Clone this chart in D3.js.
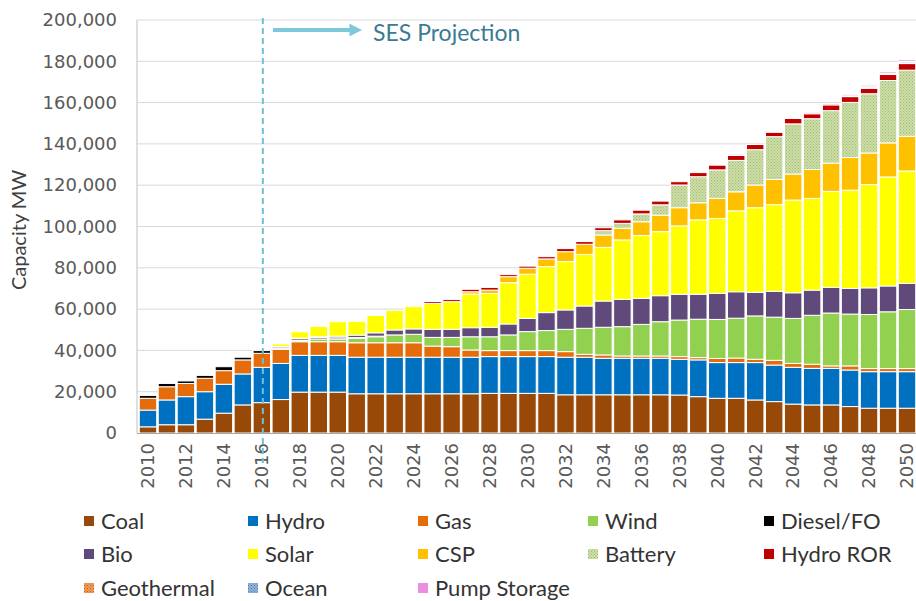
<!DOCTYPE html>
<html><head><meta charset="utf-8">
<script src="https://cdn.jsdelivr.net/npm/d3@7/dist/d3.min.js"></script>
<style>html,body{margin:0;padding:0;background:#fff;}svg{display:block;}</style>
</head><body>
<svg id="chart" width="916" height="601"></svg>
<script>
const years = [2010,2011,2012,2013,2014,2015,2016,2017,2018,2019,2020,2021,2022,2023,2024,2025,2026,2027,2028,2029,2030,2031,2032,2033,2034,2035,2036,2037,2038,2039,2040,2041,2042,2043,2044,2045,2046,2047,2048,2049,2050];
const xTickYears = [2010,2012,2014,2016,2018,2020,2022,2024,2026,2028,2030,2032,2034,2036,2038,2040,2042,2044,2046,2048,2050];
const yTicks = [0,20000,40000,60000,80000,100000,120000,140000,160000,180000,200000];
const seriesNames = ["Coal","Hydro","Gas","Wind","Diesel/FO","Bio","Solar","CSP","Battery","Hydro ROR","Geothermal","Ocean","Pump Storage"];

const coal = [3000,4000,4000,6700,9600,13600,14700,16200,19800,19800,19800,19000,19000,19000,19000,19000,19000,19000,19200,19200,19200,19200,18500,18500,18500,18500,18500,18500,18400,17600,16800,16800,16000,15200,14000,13600,13600,12800,12000,12000,12000];
const hydro = [8100,12000,13600,13300,14000,15000,17100,17500,17800,17800,17800,17700,17700,17700,17700,17700,17700,17700,17800,17800,17800,17800,18200,18200,17700,17700,17700,17700,17300,17800,17300,17300,18100,17700,17800,17700,17700,17700,17700,17700,17700];
const gas = [5700,6400,6400,6500,6600,6800,6800,6800,6600,6600,6600,7000,7000,7000,7000,5400,5100,3500,2900,2900,2900,2900,2700,1400,1600,1100,1100,1100,1300,1100,2000,2200,1600,2300,1900,2000,1200,2000,1500,1500,1500];
const wind = [0,0,0,0,0,0,0,400,600,1200,1300,2100,2900,3800,4100,4200,4500,6400,6700,7600,9200,9700,10800,12600,13400,14200,15300,16600,17700,18600,18900,19300,21000,20900,21800,23700,25600,25100,26200,27500,28600];
const diesel = [1400,1600,1200,1400,1900,1300,1300,700,800,700,600,400,300,0,0,0,0,0,0,0,0,0,0,0,0,0,0,0,0,0,0,0,0,0,0,0,0,0,0,0,0];
const bio = [0,0,0,0,0,0,0,300,400,500,800,1200,1600,2400,2600,3900,3900,4400,4600,5300,6400,8700,9400,10800,12700,13200,12600,12600,12500,12100,12600,12800,11400,12500,12400,12200,12400,12400,12900,12500,12600];
const solar = [0,0,0,0,0,0,0,1200,3000,5000,7000,6700,8400,9400,10800,12600,13400,16300,16400,20000,21400,22300,23400,25000,26000,28800,30400,31000,33100,36000,36300,39200,41000,42000,44900,44400,46500,47600,50000,52800,54500];
const csp = [0,0,0,0,0,0,0,0,0,0,0,0,0,0,0,0,0,1100,1600,2900,2900,3700,4800,4900,6000,5600,6700,8000,8800,8300,9700,9200,11000,12200,12600,14000,13700,15800,15300,16500,16800];
const battery = [0,0,0,0,0,0,0,0,0,0,0,0,0,0,0,0,0,0,0,0,0,0,0,0,2100,2400,3800,5000,11000,12600,13800,15200,17100,20700,24300,24600,25400,26700,28700,30200,32000];
const hydroRor = [0,0,0,0,0,0,0,0,0,0,0,0,0,0,0,900,1000,1200,1300,1000,1000,1100,1500,1300,1400,1700,1800,1800,1600,2000,2300,2400,2500,2100,2600,2400,2800,2800,2600,2900,3200];
const geothermal = [0,0,0,0,0,0,0,0,0,0,0,0,0,0,0,0,0,0,0,0,0,0,0,0,0,0,0,0,0,0,0,0,0,0,0,0,0,0,300,300,400];
const ocean = [0,0,0,0,0,0,0,0,0,0,0,0,0,0,0,0,0,0,0,0,0,0,0,0,0,0,0,0,0,0,0,0,0,0,0,0,0,400,500,400,600];
const pumpStorage = [0,0,0,0,0,0,0,0,0,0,0,0,0,0,0,0,0,0,0,0,0,0,0,0,0,0,0,0,0,0,0,600,0,0,0,700,700,700,700,800,800];

const seriesValues = [coal,hydro,gas,wind,diesel,bio,solar,csp,battery,hydroRor,geothermal,ocean,pumpStorage];
const fills = ["#984807","#0070C0","#E46C0A","#92D050","#000000","#604A7B","#FFFF00","#FFC000","url(#pBattery)","#C00000","url(#pGeo)","url(#pOcean)","#E98FE0"];

const table = years.map((yr,i)=>{const o={year:yr}; seriesNames.forEach((n,k)=>o[n]=seriesValues[k][i]); return o;});

const svg = d3.select("#chart");
const defs = svg.append("defs");
function dotPattern(id,bg,dot){
  const p = defs.append("pattern").attr("id",id).attr("patternUnits","userSpaceOnUse").attr("width",3).attr("height",3);
  p.append("rect").attr("width",3).attr("height",3).attr("fill",bg);
  p.append("rect").attr("x",0).attr("y",0).attr("width",1).attr("height",1).attr("fill",dot);
  p.append("rect").attr("x",1.5).attr("y",1.5).attr("width",1).attr("height",1).attr("fill",dot);
}
dotPattern("pBattery","#CDDDAA","#A3BE6B");
dotPattern("pGeo","#F2A062","#C05808");
dotPattern("pOcean","#95B3D7","#4F81BD");

const x = d3.scaleBand().domain(years).range([138.5,916.5]).paddingInner(0.08).paddingOuter(0.04);
const y = d3.scaleLinear().domain([0,200000]).range([433,20]);

// gridlines
svg.append("g").selectAll("line").data(yTicks.filter(d=>d>0)).join("line")
  .attr("x1",137).attr("x2",916).attr("y1",d=>y(d)).attr("y2",d=>y(d))
  .attr("stroke","#D9D9D9").attr("stroke-width",1);

// bars
const stack = d3.stack().keys(seriesNames)(table);
svg.append("g").selectAll("g").data(stack).join("g")
  .attr("fill",(d,i)=>fills[i])
  .selectAll("rect").data(d=>d.filter(s=>s[1]-s[0]>0)).join("rect")
  .attr("x",d=>x(d.data.year)).attr("width",x.bandwidth())
  .attr("y",d=>y(d[1])).attr("height",d=>y(d[0])-y(d[1]))
  .attr("stroke","#fff").attr("stroke-width",1);

// axes lines
svg.append("line").attr("x1",137).attr("x2",137).attr("y1",20).attr("y2",433).attr("stroke","#BFBFBF");
svg.append("line").attr("x1",137).attr("x2",916).attr("y1",433.5).attr("y2",433.5).attr("stroke","#A6A6A6");

// y axis
const yAxis = svg.append("g").attr("transform","translate(137,0)")
  .call(d3.axisLeft(y).tickValues(yTicks).tickFormat(d3.format(",")).tickSize(0).tickPadding(20));
yAxis.select(".domain").remove();
yAxis.selectAll("text").attr("font-family","DejaVu Sans").attr("font-size",18).attr("fill","#595959");

// x axis
const xAxis = svg.append("g").attr("transform","translate(0,433)")
  .call(d3.axisBottom(x).tickValues(xTickYears).tickSize(0));
xAxis.select(".domain").remove();
xAxis.selectAll("text").attr("font-family","DejaVu Sans").attr("font-size",18).attr("fill","#595959")
  .attr("transform","rotate(-90)").attr("text-anchor","end").attr("x",-10).attr("y",0).attr("dy","0.35em");

// y title
svg.append("text").attr("transform","translate(26,230) rotate(-90)").attr("text-anchor","middle")
  .attr("font-family","Lato").attr("font-size",20).attr("fill","#404040").text("Capacity MW");

// projection marker
const projX = x(2016)+x.bandwidth()/2+1;
svg.append("line").attr("x1",projX).attr("x2",projX).attr("y1",18).attr("y2",463)
  .attr("stroke","#6FBFD5").attr("stroke-width",2).attr("stroke-dasharray","6,4");
defs.append("marker").attr("id","arr").attr("viewBox","0 0 10 10").attr("refX",2).attr("refY",5)
  .attr("markerWidth",3.2).attr("markerHeight",3.2).attr("orient","auto")
  .append("path").attr("d","M0,0 L10,5 L0,10 Z").attr("fill","#7EC8DC");
svg.append("line").attr("x1",273).attr("x2",352).attr("y1",30).attr("y2",30)
  .attr("stroke","#7EC8DC").attr("stroke-width",4).attr("marker-end","url(#arr)");
svg.append("text").attr("x",373).attr("y",41).attr("font-family","Lato").attr("font-size",23)
  .attr("fill","#3B7A94").text("SES Projection");

// legend
const legendX = [84,248,418,588,764];
const legendY = [521,554,588];
const lg = svg.append("g").selectAll("g").data(seriesNames).join("g")
  .attr("transform",(d,i)=>`translate(${legendX[i%5]},${legendY[Math.floor(i/5)]})`);
lg.append("rect").attr("x",0).attr("y",-5).attr("width",10).attr("height",10).attr("fill",(d,i)=>fills[i]);
lg.append("text").attr("x",17).attr("y",0).attr("dy","0.35em").attr("font-family","Lato").attr("font-size",22)
  .attr("fill","#333").text(d=>d);
</script>
</body></html>
